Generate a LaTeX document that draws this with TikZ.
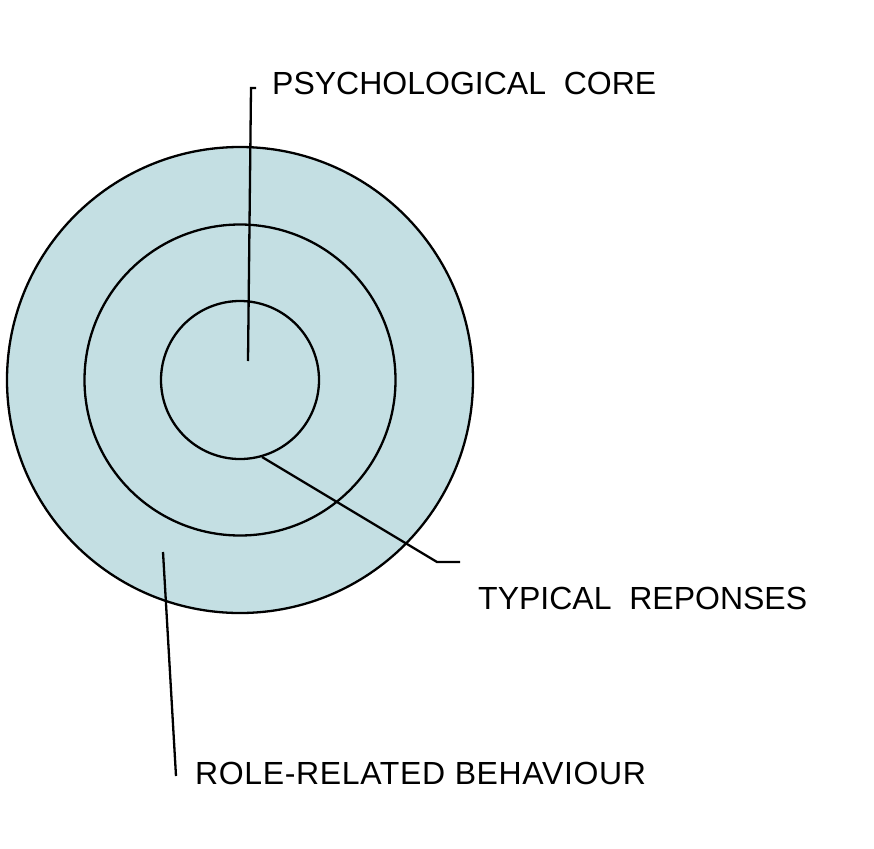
\documentclass[tikz,border=0pt]{standalone}
\usepackage{fontspec}
\setmainfont{Liberation Sans}
\definecolor{ringfill}{RGB}{196,223,227}
\tikzset{
  ring/.style={circle, draw=black, line width=2.3pt, inner sep=0pt},
  leader/.style={draw=black, line width=2.3pt},
  lbl/.style={anchor=west, inner sep=0pt, font=\fontsize{32}{36}\selectfont}
}
\begin{document}
\begin{tikzpicture}[x=1pt,y=-1pt]
\useasboundingbox (0,0) rectangle (874,848);
\node[ring, fill=ringfill, minimum size=466pt] (outer) at (240,380) {};
\node[ring, minimum size=311pt] (middle) at (240,380) {};
\node[ring, minimum size=158pt] (inner) at (240,380) {};
\node[lbl] (core) at (272,83) {PSYCHOLOGICAL\ \ CORE};
\node[lbl] (typ) at (478,598) {TYPICAL\ \ REPONSES};
\node[lbl] (role) at (195,773) {\addfontfeature{LetterSpace=2}ROLE-RELATED BEHAVIOUR};
\coordinate (c1) at (248,361);
\coordinate (c2) at (251,88);
\coordinate (c3) at (256,88);
\coordinate (t1) at (262,457);
\coordinate (t2) at (437,562);
\coordinate (t3) at (460,562);
\coordinate (r1) at (163,552);
\coordinate (r2) at (176,776);
\draw[leader] (c1) -- (c2) -- (c3);
\draw[leader] (t1) -- (t2) -- (t3);
\draw[leader] (r1) -- (r2);
\end{tikzpicture}
\end{document}
